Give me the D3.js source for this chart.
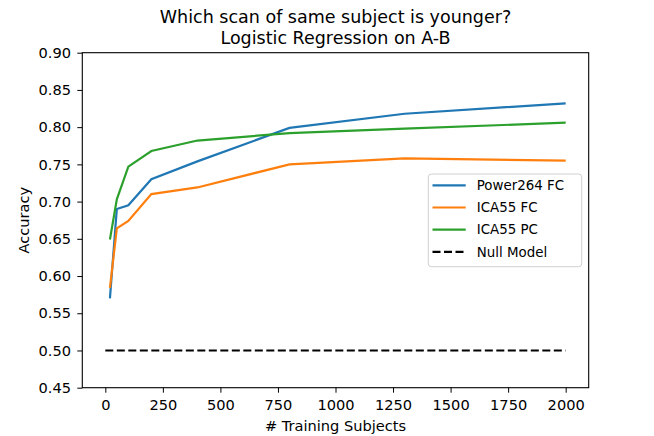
<!DOCTYPE html>
<html>
<head>
<meta charset="utf-8">
<script src="https://cdn.jsdelivr.net/npm/d3@7"></script>
<style>
  body { margin: 0; background: #fff; }
  svg text { font-family: "DejaVu Sans", sans-serif; fill: #000; }
</style>
</head>
<body>
<div id="chart"></div>
<script>
const width = 654;
const height = 436;

// data
const trainSizes = [20, 50, 100, 200, 400, 800, 1300, 2000];
const power264FC = [0.570, 0.690, 0.695, 0.730, 0.754, 0.799, 0.818, 0.832];
const ica55FC = [0.584, 0.664, 0.674, 0.710, 0.719, 0.750, 0.758, 0.755];
const ica55PC = [0.649, 0.703, 0.747, 0.768, 0.782, 0.792, 0.798, 0.806];
const nullX = [0, 2000];
const nullY = [0.5, 0.5];
const xTicks = [0, 250, 500, 750, 1000, 1250, 1500, 1750, 2000];
const yTicks = [0.45, 0.50, 0.55, 0.60, 0.65, 0.70, 0.75, 0.80, 0.85, 0.90];

const seriesNames = ["Power264 FC", "ICA55 FC", "ICA55 PC"];
const seriesColors = ["#1f77b4", "#ff7f0e", "#2ca02c"];

const fontSize = 14.6;
const legendFont = 13.4;

const margin = { top: 52.7, left: 82.3, right: 654 - 588.7, bottom: 436 - 387.7 };
const innerW = width - margin.left - margin.right;
const innerH = height - margin.top - margin.bottom;

const svg = d3.select("#chart").append("svg").attr("width", width).attr("height", height);

const xScale = d3.scaleLinear().domain([-100, 2100]).range([0, innerW]);
const yScale = d3.scaleLinear().domain([0.45, 0.90]).range([innerH, 0]);

const g = svg.append("g").attr("transform", `translate(${margin.left},${margin.top})`);

//axes
const xAxis = d3.axisBottom(xScale).tickValues(xTicks).tickFormat(d3.format("d")).tickSizeInner(5).tickSizeOuter(0).tickPadding(7);
const yAxis = d3.axisLeft(yScale).tickValues(yTicks).tickFormat(d3.format(".2f")).tickSizeInner(5).tickSizeOuter(0).tickPadding(6.3);

const gx = g.append("g").attr("transform", `translate(0,${innerH})`).call(xAxis);
const gy = g.append("g").call(yAxis);
[gx, gy].forEach(a => {
    a.select(".domain").remove();
    a.selectAll("line").attr("stroke", "#000").attr("stroke-width", 1);
    a.selectAll("text").attr("font-size", fontSize).attr("font-family", "DejaVu Sans");
});

//lines
const line = d3.line().x(d => xScale(d[0])).y(d => yScale(d[1]));
const allSeries = [power264FC, ica55FC, ica55PC];

g.selectAll("path.series")
    .data(allSeries)
    .join("path")
    .attr("class", "series")
    .attr("fill", "none")
    .attr("stroke", (d, i) => seriesColors[i])
    .attr("stroke-width", 2.2)
    .attr("d", d => line(d.map((v, i) => [trainSizes[i], v])));

g.append("path")
    .attr("fill", "none")
    .attr("stroke", "#000")
    .attr("stroke-width", 2.2)
    .attr("stroke-dasharray", "8,3.5")
    .attr("d", line(nullX.map((v, i) => [v, nullY[i]])));

//frame
g.append("rect")
    .attr("width", innerW).attr("height", innerH)
    .attr("fill", "none").attr("stroke", "#000").attr("stroke-width", 1.1);

//titles
svg.append("text").attr("x", margin.left + innerW / 2).attr("y", 23.3)
    .attr("text-anchor", "middle").attr("font-size", 17.5)
    .text("Which scan of same subject is younger?");
svg.append("text").attr("x", margin.left + innerW / 2).attr("y", 44.3)
    .attr("text-anchor", "middle").attr("font-size", 17.5)
    .text("Logistic Regression on A-B");

svg.append("text").attr("x", margin.left + innerW / 2).attr("y", 430.7)
    .attr("text-anchor", "middle").attr("font-size", fontSize)
    .text("# Training Subjects");
svg.append("text")
    .attr("transform", `translate(29,${margin.top + innerH / 2}) rotate(-90)`)
    .attr("text-anchor", "middle").attr("font-size", fontSize)
    .text("Accuracy");

//legend
const legend = svg.append("g").attr("transform", "translate(428.3,174)");
legend.append("rect")
    .attr("width", 153.4).attr("height", 92.7).attr("rx", 3)
    .attr("fill", "#fff").attr("fill-opacity", 0.8)
    .attr("stroke", "#d0d0d0").attr("stroke-width", 1);

const legendItems = seriesNames.map((n, i) => ({ name: n, color: seriesColors[i], dash: null }))
    .concat([{ name: "Null Model", color: "#000", dash: "8,3.5" }]);

const items = legend.selectAll("g.item")
    .data(legendItems)
    .join("g")
    .attr("class", "item")
    .attr("transform", (d, i) => `translate(0,${11.3 + i * 22.2})`);
items.append("line")
    .attr("x1", 4.2).attr("x2", 37.4)
    .attr("stroke", d => d.color).attr("stroke-width", 2.2)
    .attr("stroke-dasharray", d => d.dash);
items.append("text")
    .attr("x", 48.4).attr("dy", "0.35em")
    .attr("font-size", legendFont)
    .text(d => d.name);
</script>
</body>
</html>
